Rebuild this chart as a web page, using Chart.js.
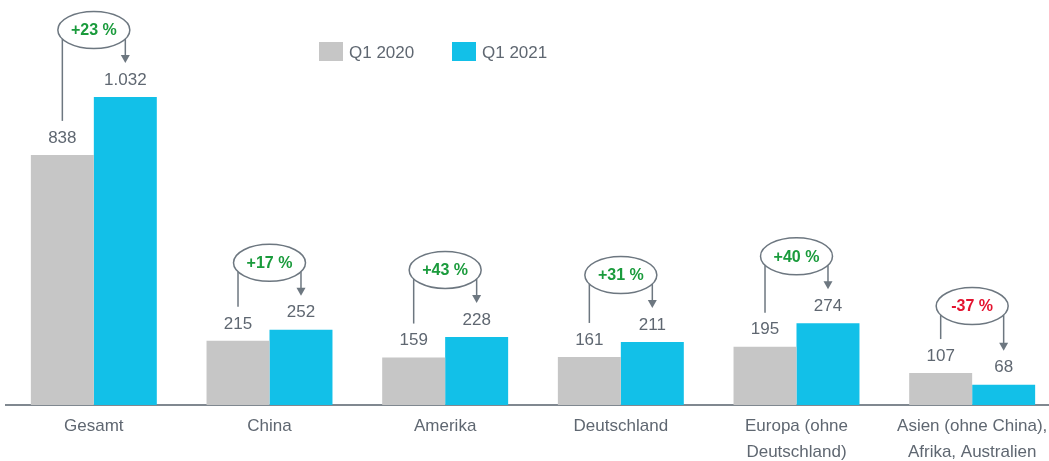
<!DOCTYPE html>
<html>
<head>
<meta charset="utf-8">
<script src="https://cdn.jsdelivr.net/npm/chart.js@4"></script>
<style>
  html, body { margin: 0; padding: 0; background: #fff; overflow: hidden; }
  #wrap { width: 1049px; height: 461px; overflow: hidden; }
</style>
</head>
<body>
<div id="wrap"><canvas id="chart" width="1060" height="461"></canvas></div>
<script>
var regionen = ["Gesamt", "China", "Amerika", "Deutschland", ["Europa (ohne", "Deutschland)"], ["Asien (ohne China),", "Afrika, Australien"]];
var q1_2020 = [838, 215, 159, 161, 195, 107];
var q1_2021 = [1032, 252, 228, 211, 274, 68];
var veraenderung = ["+23 %", "+17 %", "+43 %", "+31 %", "+40 %", "-37 %"];

var grau = "#c6c6c6";
var blau = "#12c0e8";
var textFarbe = "#5f6771";

function formatDE(v) {
  var s = String(v);
  if (s.length > 3) s = s.slice(0, s.length - 3) + "." + s.slice(-3);
  return s;
}

// Werte über den Balken, Ellipsen mit Veränderung und Legende
var beschriftung = {
  id: "beschriftung",
  afterDatasetsDraw: function (chart) {
    var ctx = chart.ctx;
    var m0 = chart.getDatasetMeta(0).data;
    var m1 = chart.getDatasetMeta(1).data;
    ctx.save();
    ctx.font = "17px 'Liberation Sans', Arial, sans-serif";
    ctx.fillStyle = textFarbe;
    ctx.textAlign = "center";
    ctx.textBaseline = "middle";
    for (var i = 0; i < m0.length; i++) {
      ctx.fillText(formatDE(q1_2020[i]), m0[i].x, m0[i].y - 17);
      ctx.fillText(formatDE(q1_2021[i]), m1[i].x, m1[i].y - 17);
    }

    ctx.strokeStyle = "#6d7780";
    ctx.fillStyle = "#6d7780";
    ctx.lineWidth = 1.5;
    var rx = 36, ry = 18.5;
    for (var j = 0; j < m0.length; j++) {
      var cx = (m0[j].x + m1[j].x) / 2;
      var cy = Math.min(m0[j].y, m1[j].y) - 67;
      var dx = m0[j].x - cx;
      var off = ry * Math.sqrt(Math.max(0, 1 - (dx * dx) / (rx * rx)));
      // linke Linie
      ctx.beginPath();
      ctx.moveTo(m0[j].x, cy + off);
      ctx.lineTo(m0[j].x, m0[j].y - 34);
      ctx.stroke();
      // rechte Linie mit Pfeil
      var tip = m1[j].y - 34;
      ctx.beginPath();
      ctx.moveTo(m1[j].x, cy + off);
      ctx.lineTo(m1[j].x, tip - 6);
      ctx.stroke();
      ctx.beginPath();
      ctx.moveTo(m1[j].x - 4.5, tip - 8);
      ctx.lineTo(m1[j].x + 4.5, tip - 8);
      ctx.lineTo(m1[j].x, tip);
      ctx.closePath();
      ctx.fill();
      // Ellipse
      ctx.beginPath();
      ctx.ellipse(cx, cy, rx, ry, 0, 0, Math.PI * 2);
      ctx.fillStyle = "#ffffff";
      ctx.fill();
      ctx.stroke();
      ctx.fillStyle = veraenderung[j].charAt(0) == "-" ? "#e4132f" : "#1a9b3c";
      ctx.font = "bold 16px 'Liberation Sans', Arial, sans-serif";
      ctx.fillText(veraenderung[j], cx, cy + 1);
      ctx.fillStyle = "#6d7780";
    }

    // Legende
    ctx.textAlign = "left";
    ctx.font = "17px 'Liberation Sans', Arial, sans-serif";
    ctx.fillStyle = grau;
    ctx.fillRect(319, 42, 24, 19);
    ctx.fillStyle = blau;
    ctx.fillRect(452, 42, 24, 19);
    ctx.fillStyle = textFarbe;
    ctx.fillText("Q1 2020", 349, 53);
    ctx.fillText("Q1 2021", 482, 53);
    ctx.restore();
  }
};

var chart = new Chart("chart", {
  type: "bar",
  data: {
    labels: regionen,
    datasets: [
      { label: "Q1 2020", data: q1_2020, backgroundColor: grau },
      { label: "Q1 2021", data: q1_2021, backgroundColor: blau }
    ]
  },
  options: {
    responsive: false,
    animation: false,
    layout: { padding: { left: 6, right: 0, top: 0, bottom: 0 } },
    categoryPercentage: 0.717,
    barPercentage: 1,
    plugins: {
      legend: { display: false },
      tooltip: { enabled: false }
    },
    scales: {
      y: {
        display: false,
        min: 0,
        max: 1357
      },
      x: {
        grid: { display: false, drawTicks: false },
        border: { display: true, color: "#808890", width: 2 },
        ticks: {
          color: textFarbe,
          font: { family: "'Liberation Sans', Arial, sans-serif", size: 17, lineHeight: 1.5 },
          padding: 9,
          maxRotation: 0,
          autoSkip: false
        },
        afterFit: function (scale) { scale.height = 56; }
      }
    }
  },
  plugins: [beschriftung]
});
</script>
</body>
</html>
